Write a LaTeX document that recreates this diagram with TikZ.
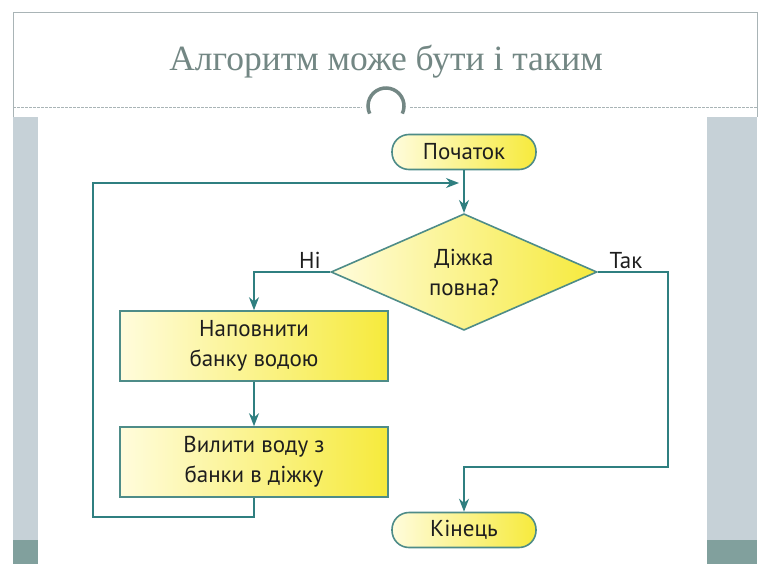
\documentclass[tikz,border=0pt]{standalone}
\usepackage{fontspec}
\setmainfont{Liberation Serif}
\newfontfamily\flowfont{PT Sans}
\usetikzlibrary{arrows.meta,shapes.geometric}
\definecolor{linec}{HTML}{2F7F80}
\definecolor{boxline}{HTML}{4E8C88}
\definecolor{titlec}{HTML}{738784}
\definecolor{framec}{HTML}{A9B4B6}
\definecolor{barc}{HTML}{C6D1D7}
\definecolor{bardark}{HTML}{81A09D}
\definecolor{yelA}{HTML}{FFFCDC}
\definecolor{yelB}{HTML}{F6EA3C}
\definecolor{txtc}{HTML}{1E1E1E}
\tikzset{
  flowtxt/.style={font=\flowfont\fontsize{23}{30}\selectfont, text=txtc, align=center},
  procbox/.style={flowtxt, draw=boxline, line width=1.6pt, left color=yelA, right color=yelB, minimum width=268pt, minimum height=70pt, inner sep=0pt},
  termbox/.style={flowtxt, draw=boxline, line width=1.6pt, left color=yelA, right color=yelB, rounded corners=17pt, minimum width=144pt, minimum height=35pt, inner sep=0pt},
  decbox/.style={flowtxt, diamond, draw=boxline, line width=1.6pt, left color=yelA, right color=yelB, minimum width=266pt, minimum height=115pt, inner sep=0pt},
  conn/.style={draw=linec, line width=1.6pt},
  arr/.style={conn, -{Stealth[length=13pt,width=10pt]}},
  lbl/.style={flowtxt}
}
\begin{document}
\begin{tikzpicture}[x=1pt,y=1pt]
\useasboundingbox (0,0) rectangle (770,-577);
\fill[white] (0,0) rectangle (770,-577);
% slide frame
\draw[framec, line width=1pt] (13,-117) -- (13,-13) -- (757,-13) -- (757,-117);
% side bars
\fill[barc] (13,-117) rectangle (38,-540);
\fill[bardark] (13,-540) rectangle (38,-564);
\fill[barc] (707,-117) rectangle (757,-540);
\fill[bardark] (707,-540) rectangle (757,-564);
% title
\node[text=titlec, font=\fontsize{35.5}{38}\selectfont] (title) at (386,-62) {Алгоритм може бути і таким};
% dashed separator with ornament
\draw[framec, line width=0.8pt, dash pattern=on 3pt off 1pt] (13,-107) -- (362,-107);
\draw[framec, line width=0.8pt, dash pattern=on 3pt off 1pt] (410,-107) -- (757,-107);
\coordinate (orn) at (386,-106);
\draw[titlec, line width=3.5pt] (orn) ++(-25:18) arc[start angle=-25, end angle=205, radius=18];
% flowchart nodes
\node[termbox] (start) at (464,-152) {Початок};
\node[decbox] (dec) at (464,-272) {Діжка\\повна?};
\node[procbox] (fill) at (254,-346) {Наповнити\\банку водою};
\node[procbox] (pour) at (254,-462) {Вилити воду з\\банки в діжку};
\node[termbox] (end) at (464,-530) {Кінець};
% coordinates
\coordinate (join) at (464,-183);
\coordinate (loopbl) at (93,-517);
\coordinate (yesr) at (668,-272);
\coordinate (yesb) at (668,-467);
% connectors
\draw[arr] (start.south) -- (dec.north);
\draw[arr] (dec.west) -| (fill.north);
\draw[arr] (fill.south) -- (pour.north);
\draw[arr, shorten >=5pt] (pour.south) |- (loopbl) |- (join);
\draw[arr] (dec.east) -- (yesr) -- (yesb) -| (end.north);
% labels
\node[lbl] (no) at (310,-260) {Ні};
\node[lbl] (yes) at (626,-261) {Так};
\end{tikzpicture}
\end{document}
